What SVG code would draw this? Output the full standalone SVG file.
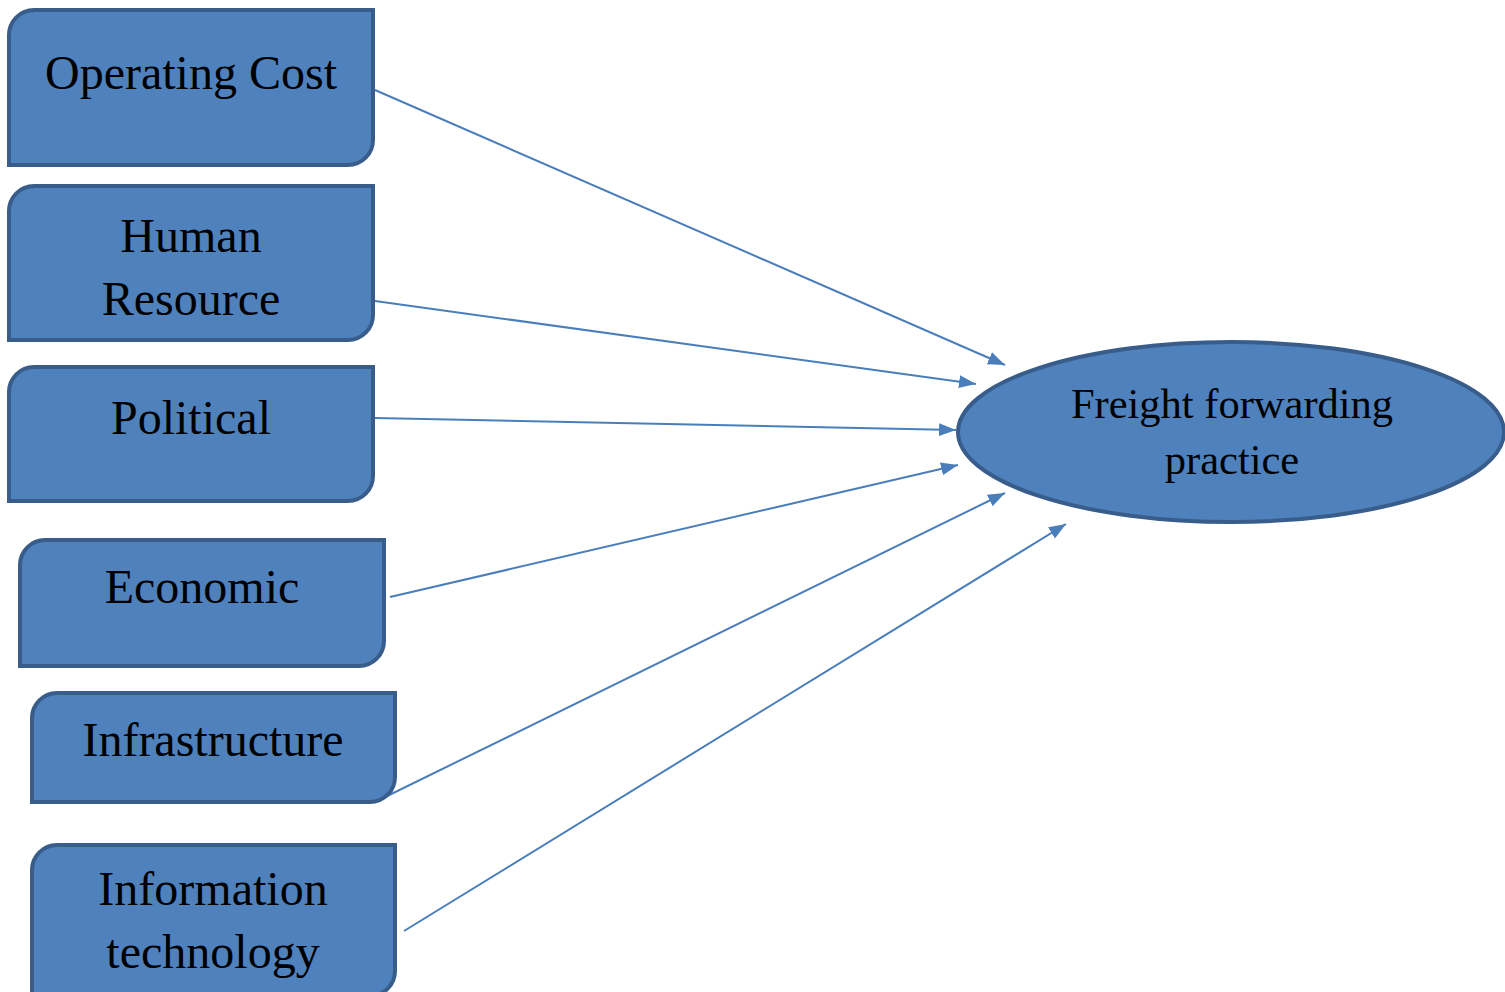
<svg xmlns="http://www.w3.org/2000/svg" width="1505" height="992" viewBox="0 0 1505 992">
<style>
.box{fill:#4F81BD;stroke:#385D8A;stroke-width:4}
.t{font-family:"Liberation Serif","Times New Roman",serif;font-size:48px;fill:#000;text-anchor:middle}
.te{font-family:"Liberation Serif","Times New Roman",serif;font-size:42.5px;fill:#000;text-anchor:middle}
.c{stroke:#4A7EBB;stroke-width:2;fill:none;marker-end:url(#ah)}
</style>
<defs>
<marker id="ah" markerUnits="userSpaceOnUse" markerWidth="20" markerHeight="14" refX="17" refY="6.5" orient="auto">
<path d="M0,0 L17,6.5 L0,13 Z" fill="#4A7EBB"/>
</marker>
</defs>
<rect width="1505" height="992" fill="#fff"/>
<g id="connectors">
<line class="c" x1="375" y1="90" x2="1005" y2="365"/>
<line class="c" x1="375" y1="301" x2="976" y2="384"/>
<line class="c" x1="375" y1="418" x2="956" y2="430"/>
<line class="c" x1="390" y1="597" x2="958" y2="465"/>
<line class="c" x1="375" y1="802" x2="1005" y2="493"/>
<line class="c" x1="404" y1="931" x2="1066" y2="524"/>
</g>
<g id="operating-cost">
<path class="box" d="M34,10 H373 V140 A25,25 0 0 1 348,165 H9 V35 A25,25 0 0 1 34,10 Z"/>
<text class="t" x="191" y="89">Operating Cost</text>
</g>
<g id="human-resource">
<path class="box" d="M34,186 H373 V315 A25,25 0 0 1 348,340 H9 V211 A25,25 0 0 1 34,186 Z"/>
<text class="t" x="191" y="252">Human</text>
<text class="t" x="191" y="315">Resource</text>
</g>
<g id="political">
<path class="box" d="M34,367 H373 V476 A25,25 0 0 1 348,501 H9 V392 A25,25 0 0 1 34,367 Z"/>
<text class="t" x="191" y="434">Political</text>
</g>
<g id="economic">
<path class="box" d="M45,540 H384 V641 A25,25 0 0 1 359,666 H20 V565 A25,25 0 0 1 45,540 Z"/>
<text class="t" x="202" y="603">Economic</text>
</g>
<g id="infrastructure">
<path class="box" d="M57,693 H395 V777 A25,25 0 0 1 370,802 H32 V718 A25,25 0 0 1 57,693 Z"/>
<text class="t" x="213" y="756">Infrastructure</text>
</g>
<g id="information-technology">
<path class="box" d="M57,845 H395 V971 A25,25 0 0 1 370,996 H32 V870 A25,25 0 0 1 57,845 Z"/>
<text class="t" x="213" y="905">Information</text>
<text class="t" x="213" y="968">technology</text>
</g>
<g id="freight-forwarding">
<ellipse class="box" cx="1231" cy="432" rx="273" ry="90"/>
<text class="te" x="1232" y="418">Freight forwarding</text>
<text class="te" x="1232" y="474">practice</text>
</g>
</svg>
